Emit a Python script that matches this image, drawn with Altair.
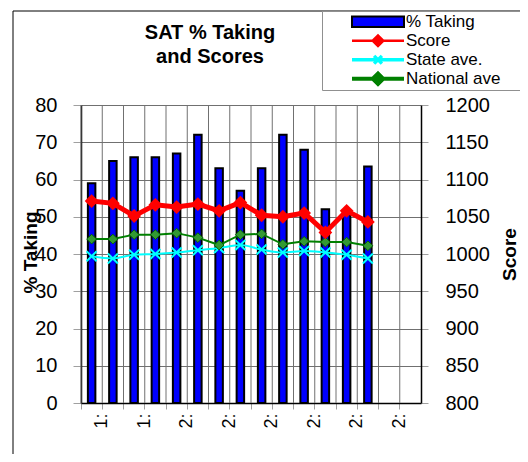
import altair as alt
import pandas as pd

# ---- data ----
years = ["1996", "1997", "1998", "1999", "2000", "2001", "2002", "2003",
         "2004", "2005", "2006", "2007", "2008", "2009", "2010", "2011"]
data_years = ["1996", "1997", "1998", "1999", "2000", "2001", "2002",
              "2003", "2004", "2005", "2006", "2007", "2008", "2009"]
pct_taking = [59, 65, 66, 66, 67, 72, 63, 57, 63, 72, 68, 52, 51, 63.5]
score = [1071, 1068, 1051, 1066, 1063, 1067, 1058, 1069, 1052, 1050, 1055, 1029, 1058, 1043]
state_ave = [997, 994, 999, 1000, 1002, 1005, 1008, 1012, 1006, 1002, 1004, 1002, 999, 994]
national_ave = [1020, 1020, 1026, 1026, 1028, 1022, 1012, 1026, 1027, 1013, 1017, 1016, 1016, 1011]

series_names = ["% Taking", "Score", "State ave.", "National ave"]
legend_fill = ["#0000FF", "#FF0000", "transparent", "#008000"]
legend_stroke = ["#000000", "#FF0000", "#00FFFF", "#008000"]
legend_width = [2, 4, 2, 2]

FONT = "Liberation Sans"

bars_df = pd.DataFrame({"year": data_years, "value": pct_taking})
score_df = pd.DataFrame({"year": data_years, "value": score})
state_df = pd.DataFrame({"year": data_years, "value": state_ave})
nat_df = pd.DataFrame({"year": data_years, "value": national_ave})
leg_df = pd.DataFrame({"series": series_names})
grid_df = pd.DataFrame({"year": years})

x_scale = alt.Scale(domain=years, paddingInner=0, paddingOuter=0)
x_axis = alt.Axis(
    title=None, bandPosition=0, grid=False,
    domainColor="black", domainWidth=1.5, tickColor="#A0A0A0", tickSize=6,
    labelAngle=270, labelAlign="right", labelBaseline="middle",
    labelOffset=10.6, labelPadding=4, labelFontSize=18, labelFont=FONT,
    labelColor="black",
    labelExpr="toNumber(datum.value) % 2 == 0 ? substring(datum.value, 0, 1) + ':' : ''",
)

x_enc = alt.X("year:O", scale=x_scale, axis=x_axis)

RECT = "M-1,-0.2H1V0.2H-1Z"
XLINE = "M-1,0H1M-0.15,-0.15L0.15,0.15M-0.15,0.15L0.15,-0.15"
DLINE = "M-1,0H1M-0.2,0L0,-0.2L0.2,0L0,0.2Z"

def make_legend():
    return alt.Legend(
        title=" ", titleOrient="right", titlePadding=40, titleFontSize=16,
        orient="none", legendX=241, legendY=-94,
        symbolSize=2704, clipHeight=17.5, rowPadding=0, padding=2,
        symbolOffset=26, labelOffset=0, symbolOpacity=1,
        labelFontSize=17, labelFont=FONT, labelColor="black",
        strokeColor="#909090", fillColor="white",
    )

legend_layer = alt.Chart(leg_df).mark_point(filled=True, opacity=0).encode(
    x=alt.value(0), y=alt.value(0),
    fill=alt.Fill("series:N", scale=alt.Scale(domain=series_names, range=legend_fill),
                  legend=make_legend()),
    stroke=alt.Stroke("series:N", scale=alt.Scale(domain=series_names, range=legend_stroke),
                      legend=make_legend()),
    shape=alt.Shape("series:N", scale=alt.Scale(domain=series_names, range=[RECT, DLINE, XLINE, DLINE]),
                    legend=make_legend()),
    strokeWidth=alt.StrokeWidth("series:N", scale=alt.Scale(domain=series_names, range=legend_width),
                                legend=make_legend()),
)

# vertical gridlines at category boundaries
vgrid = alt.Chart(grid_df).mark_rule(color="#707070", strokeWidth=1).encode(
    x=alt.X("year:O", scale=x_scale, bandPosition=0, axis=x_axis),
)

bars = alt.Chart(bars_df).mark_bar(size=7.5, fill="#0000FF", stroke="black", strokeWidth=2).encode(
    x=x_enc,
    y=alt.Y(
        "value:Q",
        scale=alt.Scale(domain=[0, 80], nice=False),
        axis=alt.Axis(
            values=list(range(0, 81, 10)), grid=True, gridColor="#707070", gridWidth=1,
            domainColor="black", domainWidth=1.5, tickColor="#A0A0A0", tickSize=8,
            labelPadding=16, labelFontSize=20, labelFont=FONT, labelColor="black",
            title="% Taking", titleFont=FONT, titleFontSize=19, titleFontWeight="bold",
            titleColor="black", titleAngle=270, titleX=-51, titleY=147,
            titleAlign="center", titleBaseline="middle",
        ),
    ),
)

y_right = alt.Y(
    "value:Q",
    scale=alt.Scale(domain=[800, 1200], nice=False),
    axis=alt.Axis(
        orient="right", values=list(range(800, 1201, 50)), grid=False, format="d",
        domainColor="black", domainWidth=1.5, tickColor="#A0A0A0", tickSize=7,
        labelPadding=17, labelFontSize=20, labelFont=FONT, labelColor="black",
        title="Score", titleFont=FONT, titleFontSize=19, titleFontWeight="bold",
        titleColor="black", titleAngle=270, titleX=88, titleY=149,
        titleAlign="center", titleBaseline="middle",
    ),
)

state_line = alt.Chart(state_df).mark_line(color="#00FFFF", strokeWidth=2, interpolate="monotone").encode(x=x_enc, y=y_right)
state_pts = alt.Chart(state_df).mark_point(
    shape="M-1,-1L1,1M-1,1L1,-1", size=100, filled=False, stroke="#00FFFF",
    strokeWidth=2, opacity=1
).encode(x=x_enc, y=y_right)

nat_line = alt.Chart(nat_df).mark_line(color="#008000", strokeWidth=2).encode(x=x_enc, y=y_right)
nat_pts = alt.Chart(nat_df).mark_point(
    shape="diamond", size=95, filled=True, fill="#339933", stroke="#006400",
    strokeWidth=1, opacity=1
).encode(x=x_enc, y=y_right)

score_line = alt.Chart(score_df).mark_line(color="#FF0000", strokeWidth=5).encode(x=x_enc, y=y_right)
score_pts = alt.Chart(score_df).mark_point(
    shape="diamond", size=190, filled=True, color="#FF0000", opacity=1
).encode(x=x_enc, y=y_right)

lines = alt.layer(state_line, state_pts, nat_line, nat_pts, score_line, score_pts)

frame = alt.Chart(alt.Data(values=[{}])).mark_rect(
    fill="transparent", stroke="black", strokeWidth=1
).encode(
    x=alt.value(-68), y=alt.value(-94), x2=alt.value(700), y2=alt.value(700)
)

chart = alt.layer(frame, vgrid, bars, lines, legend_layer).resolve_scale(y="independent").properties(
    width=340, height=298,
    autosize=alt.AutoSizeParams(type="none"),
    padding={"left": 73, "top": 97, "right": 99, "bottom": 51},
    title=alt.TitleParams(
        text=["SAT % Taking", "and Scores"], font=FONT, fontSize=20, fontWeight="bold",
        color="black", anchor="middle", frame="group", dx=-41, offset=38, dy=94,
        lineHeight=23.5,
    ),
).configure_view(
    fill="#C0C0C0", stroke="#808080", strokeWidth=1
).configure(background="white")

chart.save("out.html", embed_options={"renderer": "svg", "actions": False})
